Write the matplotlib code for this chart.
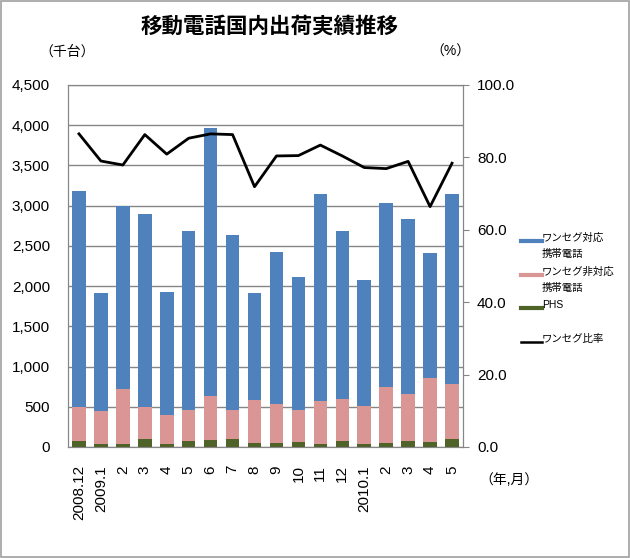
import matplotlib.pyplot as plt
import numpy as np
from matplotlib.lines import Line2D
from matplotlib.patches import Rectangle

plt.rcParams['font.family'] = ['Liberation Sans', 'Noto Sans CJK JP']

# 月ラベル
months = ['2008.12', '2009.1', '2', '3', '4', '5', '6', '7', '8', '9',
          '10', '11', '12', '2010.1', '2', '3', '4', '5']

# 出荷台数（千台）
total = [3180, 1920, 3000, 2900, 1930, 2690, 3960, 2630, 1920, 2420,
         2110, 3140, 2690, 2080, 3030, 2840, 2410, 3150]
non_oneseg_top = [495, 445, 716, 495, 404, 466, 633, 466, 579, 529,
                  454, 570, 591, 508, 745, 662, 854, 779]
phs = [79, 41, 41, 104, 41, 75, 91, 100, 50, 50,
       66, 41, 75, 41, 50, 75, 66, 104]

# ワンセグ比率（%）
ratio = [86.5, 79.0, 77.9, 86.3, 80.9, 85.3, 86.5, 86.3, 71.9, 80.4,
         80.5, 83.4, 80.4, 77.2, 76.9, 78.9, 66.4, 78.4]

non_oneseg = [a - b for a, b in zip(non_oneseg_top, phs)]
oneseg = [a - b for a, b in zip(total, non_oneseg_top)]

blue = '#4F81BD'
pink = '#D99694'
green = '#4F6228'
grid = '#868686'

W, H = 630, 558
fig = plt.figure(figsize=(W / 100, H / 100), dpi=100)
fig.patches.append(Rectangle((0.002, 0.002), 0.996, 0.996, transform=fig.transFigure,
                             fill=False, edgecolor='#A0A0A0', lw=1.2))
ax = fig.add_axes([68 / W, 1 - 447 / H, 395 / W, 362 / H])

x = np.arange(len(months))
w = 0.62
ax.bar(x, phs, w, color=green, zorder=3)
ax.bar(x, non_oneseg, w, bottom=phs, color=pink, zorder=3)
ax.bar(x, oneseg, w, bottom=non_oneseg_top, color=blue, zorder=3)

ax.set_ylim(0, 4500)
ax.set_xlim(-0.5, len(months) - 0.5)
ax.set_yticks(range(0, 4501, 500))
ax.set_yticklabels([f'{v:,}' for v in range(0, 4501, 500)], fontsize=11)
ax.yaxis.grid(True, color=grid, lw=1, zorder=0)
ax.set_xticks(x)
ax.set_xticklabels(months, rotation=90, fontsize=11, va='top')
ax.tick_params(axis='y', length=0, pad=13)
ax.tick_params(axis='x', length=0, pad=13)
for s in ax.spines.values():
    s.set_color(grid)

ax2 = ax.twinx()
ax2.plot(x, ratio, color='black', lw=2.0, zorder=5)
ax2.set_ylim(0, 100)
ax2.set_yticks(range(0, 101, 20))
ax2.set_yticklabels([f'{v:.1f}' for v in range(0, 101, 20)], fontsize=11)
ax2.tick_params(axis='y', length=4, color=grid, pad=6)
for s in ax2.spines.values():
    s.set_color(grid)

fig.text(270 / W, 1 - 27 / H, '移動電話国内出荷実績推移', ha='center', va='center',
         fontsize=15.5, fontweight='bold')
fig.text(67 / W, 1 - 52 / H, '（千台）', ha='center', va='center', fontsize=10)
fig.text(450 / W, 1 - 52 / H, '（%）', ha='center', va='center', fontsize=10)
fig.text(509 / W, 1 - 480 / H, '（年,月）', ha='center', va='center', fontsize=10)

# 凡例
legend_items = [(blue, 3, 'ワンセグ対応\n携帯電話'),
                (pink, 3, 'ワンセグ非対応\n携帯電話'),
                (green, 3, 'PHS'),
                ('black', 1.8, 'ワンセグ比率')]
for i, (c, lw, lab) in enumerate(legend_items):
    yy = 241 + i * 33.7
    fig.add_artist(Line2D([521 / W, 542 / W], [1 - yy / H, 1 - yy / H],
                          color=c, lw=lw, transform=fig.transFigure))
    fig.text(542 / W, 1 - (yy - 8.5) / H, lab, ha='left', va='top',
             fontsize=7.5, linespacing=1.75)

fig.savefig('out.png', dpi=100)
